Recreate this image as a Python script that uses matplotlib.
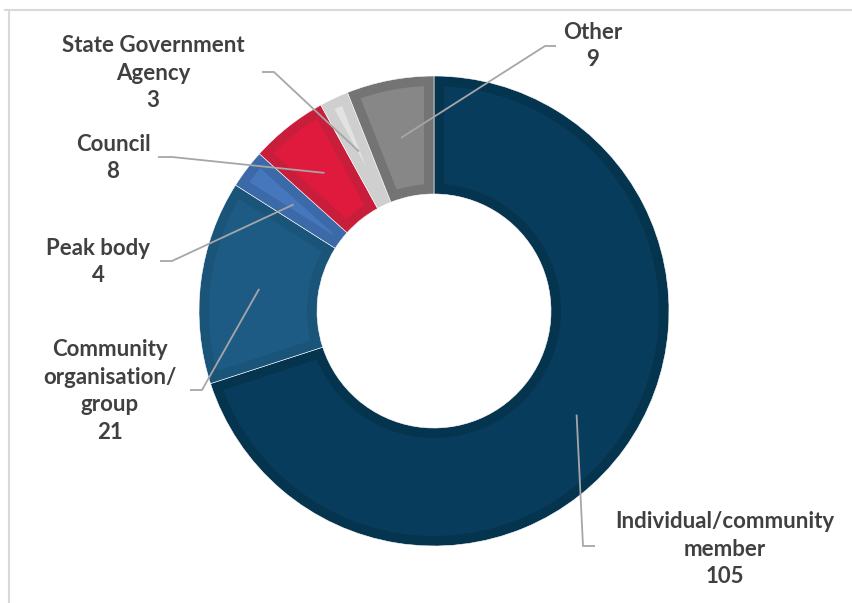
import numpy as np
import matplotlib.pyplot as plt
from matplotlib.patches import Polygon

# data
labels = ["Individual/community\nmember", "Community\norganisation/\ngroup", "Peak body",
          "Council", "State Government\nAgency", "Other"]
values = [105, 21, 4, 8, 3, 9]
fill_colors = ["#083c5c", "#1e5b84", "#4677bc", "#e01a3d", "#e2e2e2", "#878787"]
edge_colors = ["#05344f", "#1a5478", "#3c69a8", "#c91e3b", "#cfcfcf", "#747475"]

# layout (pixels, y from top)
W, H = 853, 603
cx, cy = 434, 311
R, ring = 235, 118
bevel = 10
text_pos = [(725, 549), (110, 391), (98, 262), (113, 158), (153, 73), (593, 46)]
leader_end = [(595, 546), (190, 390), (160, 261), (158, 157), (262, 72), (556, 46)]
leader_elbow = [(583, 546), (202, 390), (172, 261), (172, 157), (274, 72), (545, 46)]

plt.rcParams['font.family'] = ['Lato', 'DejaVu Sans']

fig = plt.figure(figsize=(W / 100, H / 100), dpi=100)
ax = fig.add_axes([0, 0, 1, 1])

wedges, _ = ax.pie(values, colors=edge_colors, startangle=90, counterclock=False,
                   radius=R, center=(cx, H - cy),
                   wedgeprops=dict(width=ring, edgecolor="white", linewidth=0.4))

# inner lighter face of each slice (bevel look)
r_in = R - ring
for w, fc in zip(wedges, fill_colors):
    t1, t2 = np.radians(w.theta1), np.radians(w.theta2)
    rs = np.linspace(R - bevel, r_in + bevel, 60)
    off = np.arcsin(bevel / rs)
    ok = (t1 + off) < (t2 - off)
    rs, off = rs[ok], off[ok]
    if len(rs) < 2:
        continue
    pts = []
    a_out = np.linspace(t1 + off[0], t2 - off[0], 60)
    pts += [(cx + rs[0] * np.cos(a), H - cy + rs[0] * np.sin(a)) for a in a_out]
    pts += [(cx + r * np.cos(t2 - o), H - cy + r * np.sin(t2 - o)) for r, o in zip(rs, off)]
    a_in = np.linspace(t2 - off[-1], t1 + off[-1], 60)
    pts += [(cx + rs[-1] * np.cos(a), H - cy + rs[-1] * np.sin(a)) for a in a_in]
    pts += [(cx + r * np.cos(t1 + o), H - cy + r * np.sin(t1 + o)) for r, o in zip(rs[::-1], off[::-1])]
    ax.add_patch(Polygon(pts, closed=True, facecolor=fc, edgecolor="none", zorder=2))

# leader lines and labels
for w, lab, v, tp, le, lb in zip(wedges, labels, values, text_pos, leader_end, leader_elbow):
    mid = np.radians((w.theta1 + w.theta2) / 2)
    ax0 = cx + 0.75 * R * np.cos(mid)
    ay0 = H - cy + 0.75 * R * np.sin(mid)
    ax.plot([ax0, lb[0], le[0]], [ay0, H - lb[1], H - le[1]], color="#a6a6a6",
            lw=1.3, zorder=3, solid_capstyle="butt")
    ax.text(tp[0], H - tp[1], "%s\n%d" % (lab, v), ha="center", va="center",
            fontsize=16, fontweight="bold", color="#404040", linespacing=1.4, zorder=4)

# chart frame (only top and left visible)
ax.plot([5, W], [H - 9.5, H - 9.5], color="#d9d9d9", lw=1.5, zorder=1)
ax.plot([9.5, 9.5], [0, H - 9.5], color="#d9d9d9", lw=1.5, zorder=1)

ax.set_xlim(0, W)
ax.set_ylim(0, H)
ax.set_aspect("equal")
ax.axis("off")

fig.savefig("out.png", dpi=100, facecolor="white")
